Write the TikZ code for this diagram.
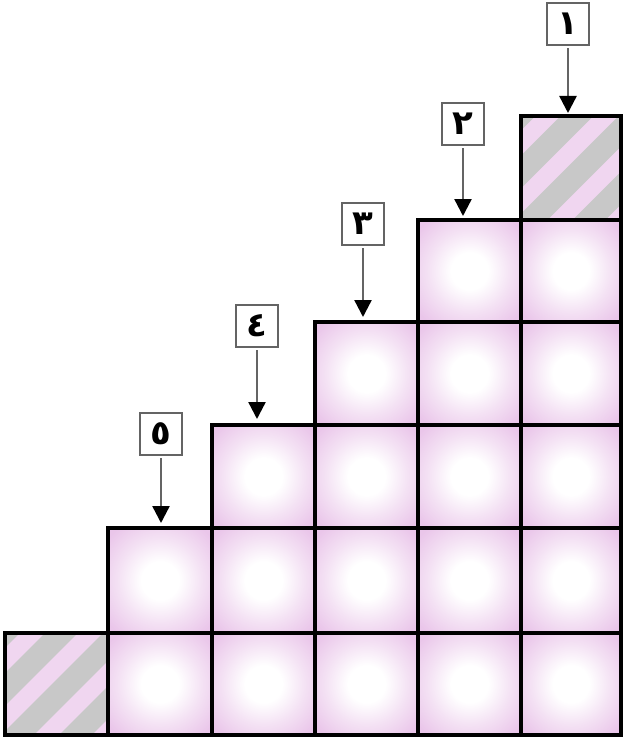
\documentclass[tikz,border=0pt]{standalone}
\usepackage{fontspec}
\newfontfamily\arabicfont[Script=Arabic]{DejaVu Sans}
\usetikzlibrary{arrows.meta,calc}
\definecolor{cellpink}{RGB}{234,198,234}
\definecolor{cellmid}{RGB}{244,226,244}
\definecolor{hatchpink}{RGB}{240,214,240}
\definecolor{hatchgray}{RGB}{200,200,200}
\definecolor{boxgray}{RGB}{100,100,100}
\pgfdeclareradialshading{cellshade}{\pgfpoint{0bp}{0bp}}{color(0bp)=(white); color(9bp)=(white); color(20bp)=(cellmid); color(32bp)=(cellpink); color(50bp)=(cellpink)}
\tikzset{
  cellfill/.style={shading=cellshade},
  gridline/.style={draw=black, line width=3.5pt},
  labelbox/.style={draw=boxgray, line width=2.2pt, fill=white, minimum width=42pt, minimum height=42pt, inner sep=0pt, font=\arabicfont\bfseries\fontsize{34}{34}\selectfont},
  arr/.style={draw=boxgray, line width=2.4pt, -{Triangle[length=17pt,width=17pt,color=black]}, shorten <=2pt}
}
\begin{document}
\begin{tikzpicture}[x=1pt,y=-1pt]
\useasboundingbox (0,0) rectangle (622,738);
\fill[white] (0,0) rectangle (622,738);
% shaded cells: left / right / top of column
\foreach \xl/\xr/\yt in {108/212/528, 212/315/425, 315/418/322, 418/521/220, 521/621/220}{
  \foreach \ya/\yb in {116/220, 220/322, 322/425, 425/528, 528/633, 633/735}{
    \ifdim \ya pt<\yt pt\relax\else
      \shade[cellfill] (\xl,\ya) rectangle (\xr,\yb);
    \fi
  }
}
% hatched cells
\foreach \xl/\xr/\ya/\yb in {5/108/633/735, 521/621/116/220}{
  \begin{scope}
    \clip (\xl,\ya) rectangle (\xr,\yb);
    \fill[hatchpink] (\xl,\ya) rectangle (\xr,\yb);
    \foreach \k in {-3,...,3}{
      \draw[hatchgray, line width=23pt] ($({(\xl+\xr)/2},{(\ya+\yb)/2})+(\k*29pt,-\k*29pt)+(-90pt,-90pt)+(6pt,-6pt)$) -- ++(180pt,180pt);
    }
  \end{scope}
}
% grid lines
\foreach \xl/\xr/\yt in {5/108/633, 108/212/528, 212/315/425, 315/418/322, 418/521/220, 521/621/116}{
  \foreach \ya/\yb in {116/220, 220/322, 322/425, 425/528, 528/633, 633/735}{
    \ifdim \ya pt<\yt pt\relax\else
      \draw[gridline] (\xl,\ya) rectangle (\xr,\yb);
    \fi
  }
}
% labels
\node[labelbox] (l1) at (568,24) {١};
\node[labelbox] (l2) at (463,124) {٢};
\node[labelbox] (l3) at (363,224) {٣};
\node[labelbox] (l4) at (257,326) {٤};
\node[labelbox] (l5) at (161,434) {٥};
\coordinate (t1) at (568,113);
\coordinate (t2) at (463,216);
\coordinate (t3) at (363,317);
\coordinate (t4) at (257,419);
\coordinate (t5) at (161,523);
\draw[arr] (l1) -- (t1);
\draw[arr] (l2) -- (t2);
\draw[arr] (l3) -- (t3);
\draw[arr] (l4) -- (t4);
\draw[arr] (l5) -- (t5);
\end{tikzpicture}
\end{document}
